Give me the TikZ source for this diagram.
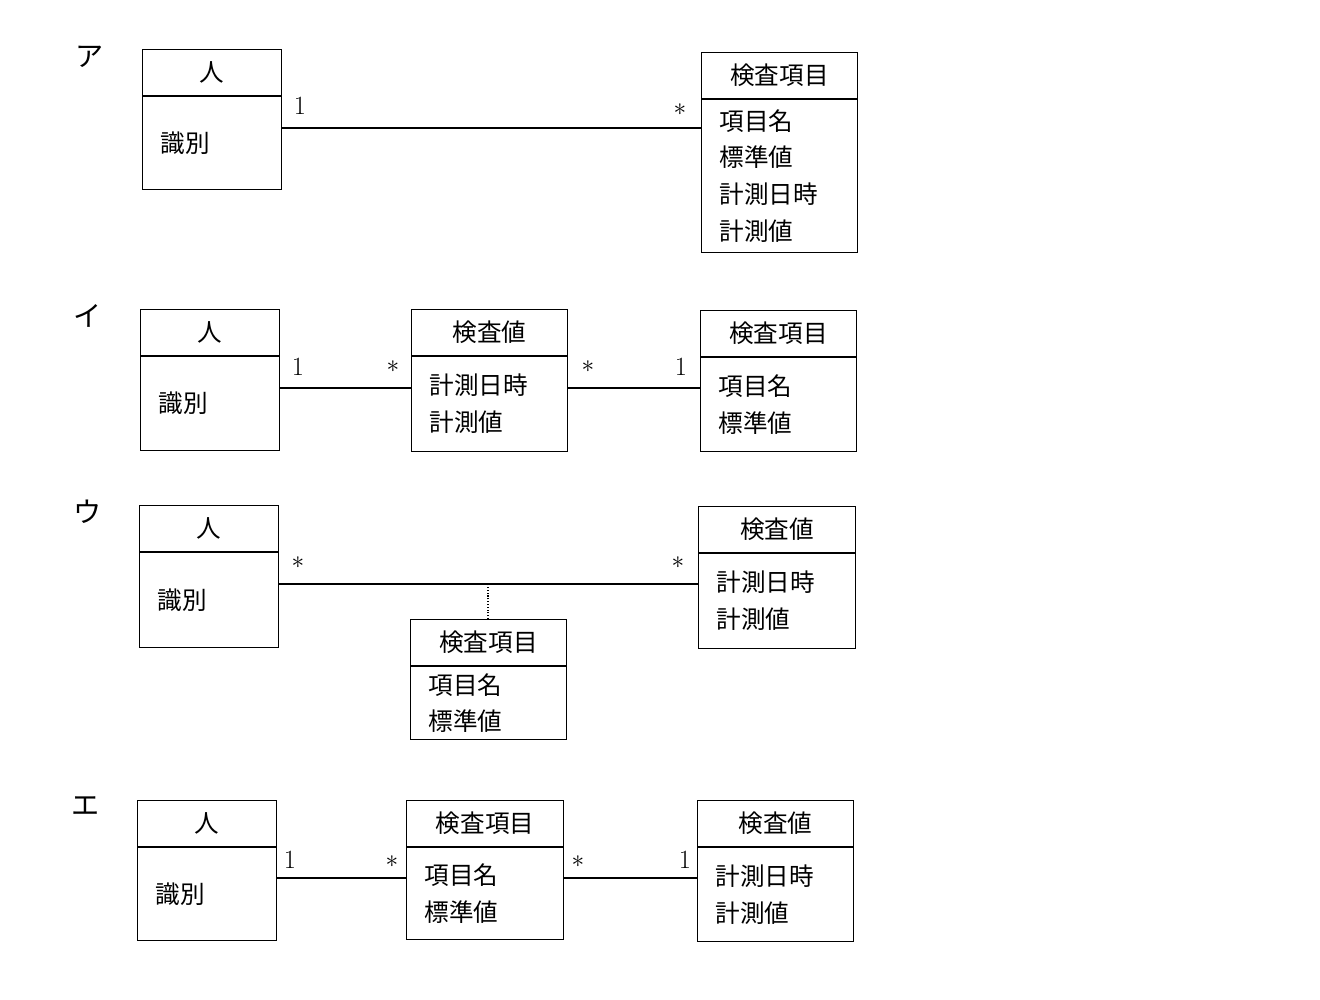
\documentclass[tikz,border=0pt]{standalone}
\usepackage{fontspec}
\newfontfamily\jp{Noto Sans CJK JP}
\usetikzlibrary{positioning}
\tikzset{
hdr/.style={draw, semithick, minimum height=0.92cm, inner sep=0pt, font=\jp\fontsize{14}{21}\selectfont}, % class name part
bdy/.style={draw, semithick, inner sep=0pt, align=left, font=\jp\fontsize{14}{21}\selectfont}, % attribute part
mult/.style={font=\fontsize{15}{18}\selectfont, inner sep=0pt},
lbl/.style={font=\jp\fontsize{16}{18}\selectfont, inner sep=0pt},
}
\newcommand{\cls}[7]{% name, x, ytop, width, body height, title, attributes
  \node[hdr, anchor=north west, minimum width=#4cm] (#1) at (#2,#3) {#6};
  \node[bdy, below=0pt of #1.south west, anchor=north west, minimum width=#4cm, minimum height=#5cm, text width=#4cm-0.72cm] (#1b) {#7};
}
\begin{document}
\begin{tikzpicture}
\useasboundingbox (0,0) rectangle (26.4,-20);
% ア
\node[lbl] (la) at (1.8,-1.14) {ア};
\cls{pa}{2.84}{-0.98}{2.78}{1.86}{人}{識別\\[0.8cm]}
\cls{ia}{14.02}{-1.04}{3.12}{3.06}{検査項目}{項目名\\標準値\\計測日時\\計測値}
\coordinate (ya) at (0,-2.56);
\draw[semithick] (pab.east|-ya) -- (iab.west|-ya);
\node[mult] (ma1) at (6.0,-2.12) {1};
\node[mult] (ma2) at (13.6,-2.2) {$\ast$};
% イ
\node[lbl] (li) at (1.76,-6.32) {イ};
\cls{pi}{2.8}{-6.18}{2.78}{1.88}{人}{識別\\[0.8cm]}
\cls{vi}{8.22}{-6.18}{3.12}{1.9}{検査値}{計測日時\\計測値}
\cls{ii}{14.0}{-6.2}{3.12}{1.88}{検査項目}{項目名\\標準値}
\coordinate (yi) at (0,-7.76);
\draw[semithick] (pib.east|-yi) -- (vib.west|-yi);
\draw[semithick] (vib.east|-yi) -- (iib.west|-yi);
\node[mult] (mi1) at (5.96,-7.34) {1};
\node[mult] (mi2) at (7.86,-7.34) {$\ast$};
\node[mult] (mi3) at (11.76,-7.34) {$\ast$};
\node[mult] (mi4) at (13.62,-7.34) {1};
% ウ
\node[lbl] (lu) at (1.76,-10.24) {ウ};
\cls{pu}{2.78}{-10.1}{2.78}{1.9}{人}{識別\\[0.8cm]}
\cls{vu}{13.96}{-10.12}{3.14}{1.9}{検査値}{計測日時\\計測値}
\cls{iu}{8.2}{-12.38}{3.12}{1.46}{検査項目}{項目名\\標準値}
\coordinate (yu) at (0,-11.68);
\draw[semithick] (pub.east|-yu) -- (vub.west|-yu);
\draw[semithick, densely dotted] (iu.north-|9.76,0) -- (9.76,-11.68);
\node[mult] (mu1) at (5.96,-11.26) {$\ast$};
\node[mult] (mu2) at (13.56,-11.26) {$\ast$};
% エ
\node[lbl] (le) at (1.72,-16.12) {エ};
\cls{pe}{2.74}{-16.0}{2.78}{1.86}{人}{識別\\[0.8cm]}
\cls{ie}{8.12}{-16.0}{3.14}{1.84}{検査項目}{項目名\\標準値}
\cls{ve}{13.94}{-16.0}{3.12}{1.88}{検査値}{計測日時\\計測値}
\coordinate (ye) at (0,-17.56);
\draw[semithick] (peb.east|-ye) -- (ieb.west|-ye);
\draw[semithick] (ieb.east|-ye) -- (veb.west|-ye);
\node[mult] (me1) at (5.8,-17.2) {1};
\node[mult] (me2) at (7.84,-17.24) {$\ast$};
\node[mult] (me3) at (11.56,-17.24) {$\ast$};
\node[mult] (me4) at (13.7,-17.2) {1};
\end{tikzpicture}
\end{document}
